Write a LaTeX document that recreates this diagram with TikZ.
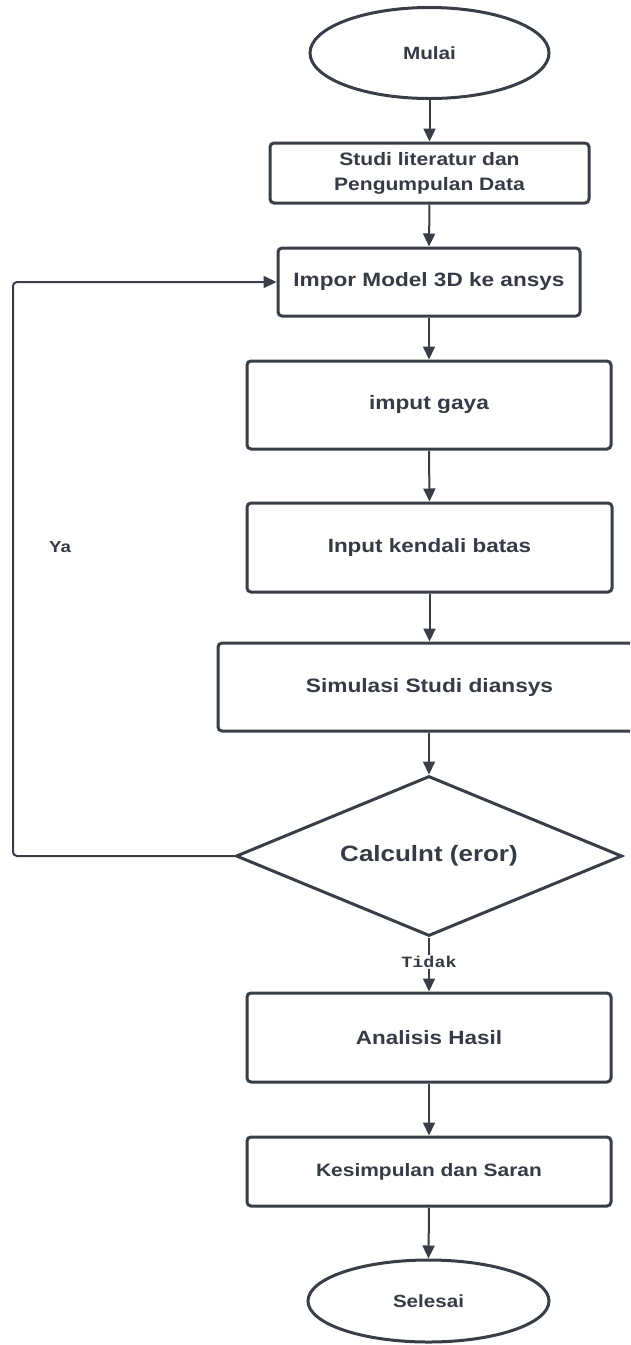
\documentclass[tikz,border=0pt]{standalone}
\usepackage{fontspec}
\setmainfont{Liberation Sans}[FakeStretch=1.17]
\newfontfamily\monofnt{Liberation Mono}[FakeStretch=1.17]
\usetikzlibrary{shapes.geometric,arrows.meta}
\definecolor{ink}{HTML}{353A45}
\definecolor{edge}{HTML}{393D47}
\newcommand{\fs}[1]{\fontsize{#1}{25}\selectfont\bfseries}
\tikzset{
  box/.style={draw=edge, line width=3pt, rounded corners=4pt, text=ink, align=center, inner sep=0pt},
  term/.style={draw=edge, line width=3pt, ellipse, text=ink, inner sep=0pt},
  decis/.style={draw=edge, line width=3pt, diamond, aspect=2.41, text=ink, inner sep=0pt, minimum width=386pt, minimum height=160pt},
  conn/.style={draw=edge, line width=2pt, -{Triangle[length=13pt,width=12pt]}},
  lbl/.style={text=ink, inner sep=1pt}
}
\begin{document}
\begin{tikzpicture}[x=1pt,y=-1pt]
\useasboundingbox (0,0) rectangle (630,1345);
\clip (0,0) rectangle (630,1345);
\fill[white] (0,0) rectangle (630,1345);
\node[term, minimum width=239pt, minimum height=91pt, font=\fs{17.7}] (mulai) at (429.5,53) {Mulai};
\node[box, minimum width=319pt, minimum height=60pt, font=\fs{18}] (studi) at (429.5,173) {Studi literatur dan\\Pengumpulan Data};
\node[box, minimum width=302pt, minimum height=68pt, font=\fs{19.3}] (impor) at (429,282) {Impor Model 3D ke ansys};
\node[box, minimum width=364pt, minimum height=88pt, font=\fs{19.4}] (gaya) at (429,405) {imput gaya};
\node[box, minimum width=365pt, minimum height=89pt, font=\fs{19.2}] (kendali) at (429.5,547.5) {Input kendali batas};
\node[box, minimum width=423pt, minimum height=88pt, font=\fs{19.4}] (sim) at (429.5,687) {Simulasi Studi diansys};
\node[decis, font=\fs{22.2}] (dec) at (429,856) {Calculnt (eror)};
\node[box, minimum width=364pt, minimum height=89pt, font=\fs{19.2}] (anal) at (429,1037.5) {Analisis Hasil};
\node[box, minimum width=364pt, minimum height=69pt, font=\fs{17.9}] (kes) at (429,1171.5) {Kesimpulan dan Saran};
\node[term, minimum width=241pt, minimum height=82pt, font=\fs{17.6}] (sel) at (428.5,1301) {Selesai};
\draw[conn] (mulai.south) -- (studi.north);
\draw[conn] (studi.south) -- (impor.north);
\draw[conn] (impor.south) -- (gaya.north);
\draw[conn] (gaya.south) -- (kendali.north);
\draw[conn] (kendali.south) -- (sim.north -| kendali.south);
\draw[conn] (sim.south -| dec.north) -- (dec.north);
\draw[conn] (dec.south) -- node[lbl, fill=white, pos=0.45, font={\monofnt\fontsize{15.7}{18}\selectfont\bfseries}] (tidak) {Tidak} (anal.north);
\draw[conn] (anal.south) -- (kes.north);
\draw[conn] (kes.south) -- (sel.north);
\coordinate (loopc) at (13,856);
\draw[conn, rounded corners=4pt] (dec.west) -- (loopc) |- (impor.west);
\node[lbl, font=\fs{16}] (ya) at (60,547) {Ya};
\end{tikzpicture}
\end{document}
